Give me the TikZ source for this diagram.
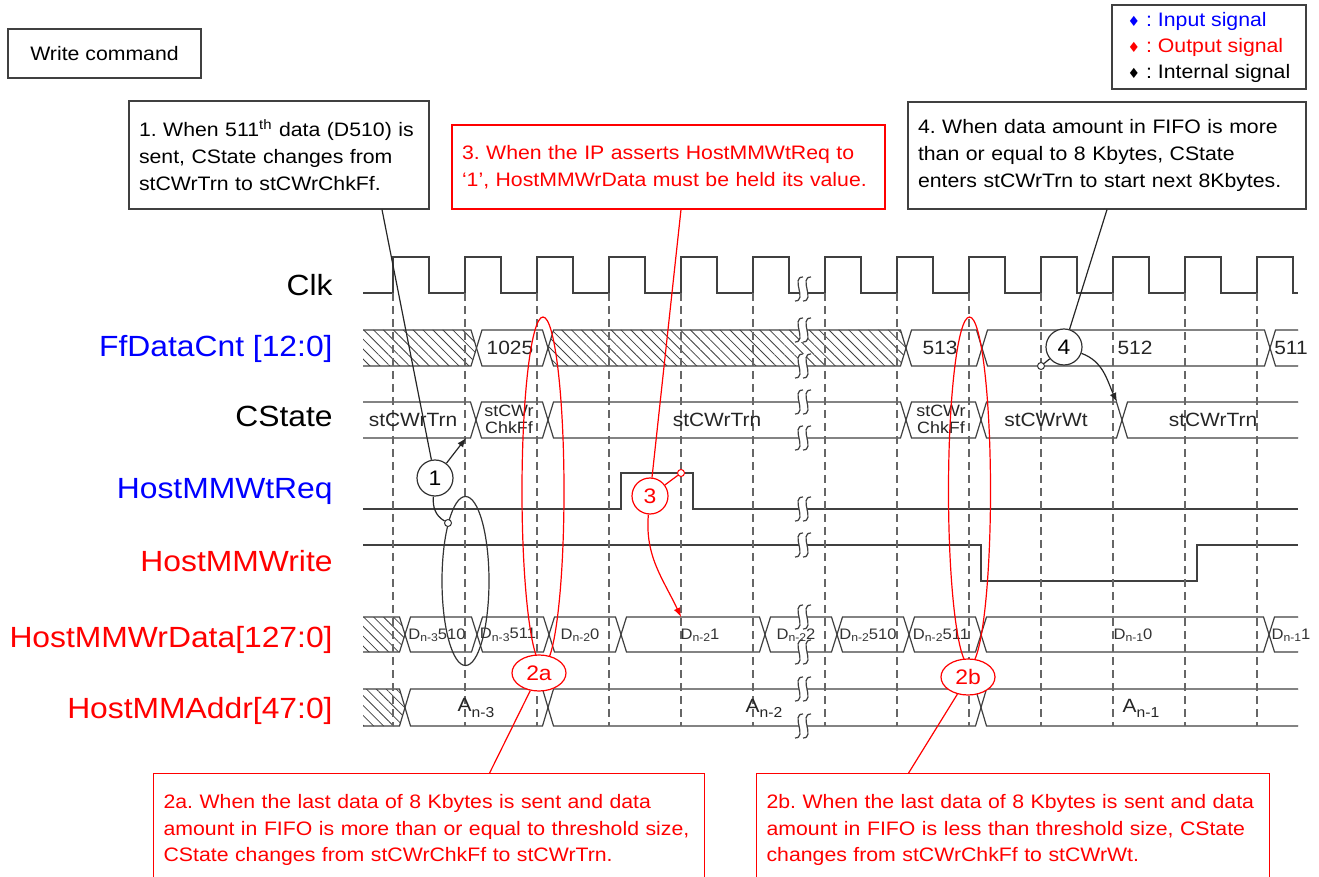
\documentclass[tikz,border=0pt]{standalone}
\usepackage{fontspec}
\setmainfont{Liberation Sans}[FakeStretch=1.09]
\newfontfamily\diafont{DejaVu Sans}
\usetikzlibrary{shapes.geometric, arrows, positioning, patterns.meta}
\frenchspacing

\newcommand{\busval}[5][]{%
  \draw[wave,#1] (#2,{(#4+#5)/2}) -- ({#2+5.5},#4) -- ({#3-5.5},#4) -- (#3,{(#4+#5)/2})
    -- ({#3-5.5},#5) -- ({#2+5.5},#5) -- cycle;}
\newcommand{\brk}[2]{%
  \fill[white] (#1,{#2-12}) .. controls ({#1-13},{#2-12}) and ({#1+5},{#2+12}) .. ({#1-8},{#2+12})
    -- (#1,{#2+12}) .. controls ({#1+13},{#2+12}) and ({#1-5},{#2-12}) .. ({#1+8},{#2-12}) -- cycle;
  \draw[wave] (#1,{#2-12}) .. controls ({#1-13},{#2-12}) and ({#1+5},{#2+12}) .. ({#1-8},{#2+12});
  \draw[wave] ({#1+8},{#2-12}) .. controls ({#1-5},{#2-12}) and ({#1+13},{#2+12}) .. (#1,{#2+12});}
\newcommand{\dv}[2]{D\raisebox{-0.3ex}{\fontsize{5.6}{6}\selectfont #1}#2}
\newcommand{\av}[1]{A\raisebox{-0.5ex}{\fontsize{7.2}{8}\selectfont #1}}
\newcommand{\dia}[1]{{\diafont\fontsize{7}{7}\selectfont\textcolor{#1}{♦}}}

\begin{document}
\begin{tikzpicture}[x=0.5pt, y=-0.5pt,
    wave/.style={draw=black!75, line width=0.6pt},
    hatch/.style={pattern={Lines[angle=-45, distance=3.5pt, line width=0.4pt]}, pattern color=black!75},
    guide/.style={draw=black!60, line width=0.6pt, dash pattern=on 4pt off 2.5pt},
    signame/.style={anchor=base east, inner sep=0pt, font=\fontsize{14.6}{16}\selectfont},
    busval/.style={inner sep=0pt, text=black!85, font=\fontsize{9.6}{10}\selectfont},
    dataval/.style={inner sep=0pt, text=black!80, font=\fontsize{7.6}{8}\selectfont},
    note/.style={draw=black!75, line width=0.6pt, fill=white, inner xsep=5pt, align=left,
                 font=\fontsize{9.75}{13.35}\selectfont},
    rednote/.style={note, draw=red, text=red},
    tag/.style={circle, draw=black!80, line width=0.6pt, fill=white, minimum size=18pt,
                inner sep=0pt, font=\fontsize{10.5}{11}\selectfont},
    redtag/.style={tag, draw=red, text=red},
    ring/.style={ellipse, draw, line width=0.6pt, inner sep=0pt},
    dot/.style={circle, draw, line width=0.5pt, fill=white, minimum size=3.5pt, inner sep=0pt},
    callout/.style={draw=black!85, line width=0.6pt}
]
\useasboundingbox (0,0) rectangle (1319,877);

\node[signame] (lblclk) at (333,296) {Clk};
\node[signame, text=blue] (lblcnt) at (333,357) {FfDataCnt [12:0]};
\node[signame] (lblstate) at (333,427) {CState};
\node[signame, text=blue] (lblreq) at (333,499) {HostMMWtReq};
\node[signame, text=red] (lblwrite) at (333,572) {HostMMWrite};
\node[signame, text=red] (lbldata) at (333,647) {HostMMWrData[127:0]};
\node[signame, text=red] (lbladdr) at (333,718) {HostMMAddr[47:0]};

\draw[wave] (363,293) foreach \r in {393,465,...,1257} { -- (\r,293) -- (\r,257) -- ({\r+36},257) -- ({\r+36},293) } -- (1298,293);
\draw[wave] (363,509) -- (621,509) -- (621,473) -- (693,473) -- (693,509) -- (1298,509);
\draw[wave] (363,545) -- (981,545) -- (981,581) -- (1197,581) -- (1197,545) -- (1298,545);

\begin{scope}
  \clip (363,250) rectangle (1298,740);
  \busval[hatch]{357}{476.5}{330}{366}
  \busval{476.5}{548}{330}{366}
  \busval[hatch]{548}{906}{330}{366}
  \busval{906}{982}{330}{366}
  \busval{982}{1270}{330}{366}
  \busval{1270}{1304}{330}{366}

  \busval{357}{476}{402}{438}
  \busval{476}{548}{402}{438}
  \busval{548}{906}{402}{438}
  \busval{906}{981}{402}{438}
  \busval{981}{1122}{402}{438}
  \busval{1122}{1304}{402}{438}

  \busval[hatch]{357}{405}{617}{652}
  \foreach \a/\b in {405/477, 477/549, 549/621, 621/765, 765/837, 837/909, 909/981, 981/1269, 1269/1304}
    {\busval{\a}{\b}{617}{652}}

  \busval[hatch]{357}{405}{689}{726}
  \busval{405}{548}{689}{726}
  \busval{548}{981}{689}{726}
  \busval{981}{1304}{689}{726}
\end{scope}

\foreach \r in {393,465,...,1257} \draw[guide] (\r,293) -- (\r,726);
\foreach \y in {289,330,366,402,438,509,545,617,652,689,726} {\brk{803}{\y}}

\node[busval] (v1025) at (510,348) {1025};
\node[busval] (v513) at (940,348) {513};
\node[busval] (v512) at (1135,348) {512};
\node[busval] (v511) at (1291,348) {511};

\node[busval] (st1) at (413,420) {stCWrTrn};
\node[busval, align=center, font=\fontsize{8.2}{8.5}\selectfont] (chk1) at (509,419) {stCWr\\ChkFf};
\node[busval] (st2) at (717,420) {stCWrTrn};
\node[busval, align=center, font=\fontsize{8.2}{8.5}\selectfont] (chk2) at (941,419) {stCWr\\ChkFf};
\node[busval] (wt1) at (1046,420) {stCWrWt};
\node[busval] (st3) at (1213,420) {stCWrTrn};

\node[dataval] (d0) at (437,635) {\dv{n-3}{510}};
\node[dataval] (d1) at (508,635) {\dv{n-3}{511}};
\node[dataval] (d2) at (580,635) {\dv{n-2}{0}};
\node[dataval] (d3) at (700,635) {\dv{n-2}{1}};
\node[dataval] (d4) at (796,635) {\dv{n-2}{2}};
\node[dataval] (d5) at (868,635) {\dv{n-2}{510}};
\node[dataval] (d6) at (941,635) {\dv{n-2}{511}};
\node[dataval] (d7) at (1133,635) {\dv{n-1}{0}};
\node[dataval] (d8) at (1291,635) {\dv{n-1}{1}};

\node[busval] (a0) at (476,708) {\av{n-3}};
\node[busval] (a1) at (764,708) {\av{n-2}};
\node[busval] (a2) at (1141,708) {\av{n-1}};

\node[ring, draw=red, minimum width=21pt, minimum height=174pt] (e2a) at (543,491) {};
\node[ring, draw=red, minimum width=21pt, minimum height=174pt] (e2b) at (969.5,491) {};
\node[ring, draw=black!80, minimum width=23.5pt, minimum height=84.5pt] (e1) at (465.5,581) {};
\node[redtag, ellipse, minimum width=27pt, minimum height=18pt] (l2a) at (539,673) {2a};
\node[redtag, ellipse, minimum width=27pt, minimum height=18pt] (l2b) at (968,677) {2b};

\node[tag] (c1) at (435,478) {1};
\node[redtag] (c3) at (650,496) {3};
\node[tag] (c4) at (1064,347) {4};
\node[dot, draw=black!80] (s1) at (448,523) {};
\node[dot, draw=red] (s3) at (681,473) {};
\node[dot, draw=black!80] (s4) at (1041,366) {};
\coordinate (cs1) at (466,438);
\coordinate (wd1) at (681,617);
\coordinate (cs4) at (1117,402);

\node[note, minimum width=96.5pt, minimum height=24.5pt] (cmd) at (104.5,53.5) {Write command};
\node[note, minimum width=97pt, minimum height=42pt, font=\fontsize{9.75}{13}\selectfont] (legend) at (1209,47)
  {\dia{blue} \textcolor{blue}{: Input signal}\\ \dia{red} \textcolor{red}{: Output signal}\\ \dia{black} : Internal signal};
\node[note, text width=140pt, minimum height=54pt] (box1) at (279,155)
  {1. When 511\textsuperscript{th} data (D510) is\\ sent, CState changes from\\ stCWrTrn to stCWrChkFf.};
\node[rednote, text width=206.5pt, minimum height=42pt] (box3) at (668.5,167)
  {3. When the IP asserts HostMMWtReq to\\ ‘1’, HostMMWrData must be held its value.};
\node[note, text width=189pt, minimum height=53.5pt] (box4) at (1107,155.5)
  {4. When data amount in FIFO is more\\ than or equal to 8 Kbytes, CState\\ enters stCWrTrn to start next 8Kbytes.};
\node[rednote, text width=265.5pt, anchor=north west, inner ysep=10.4pt] (box2a) at (153,773)
  {2a. When the last data of 8 Kbytes is sent and data\\ amount in FIFO is more than or equal to threshold size,\\ CState changes from stCWrChkFf to stCWrTrn.};
\node[rednote, text width=246.5pt, anchor=north west, inner ysep=10.4pt] (box2b) at (756,773)
  {2b. When the last data of 8 Kbytes is sent and data\\ amount in FIFO is less than threshold size, CState\\ changes from stCWrChkFf to stCWrWt.};

\draw[callout] ([xshift=51.5pt]box1.south) -- (c1);
\draw[callout, -latex] (c1) -- (cs1);
\draw[callout] (c1) to[out=-95, in=150] (s1);
\draw[red, line width=0.6pt] ([xshift=6.25pt]box3.south) -- (c3);
\draw[red, line width=0.6pt] (c3) -- (s3);
\draw[red, line width=0.6pt, -latex] (c3) to[out=-95, in=115] (wd1);
\draw[callout] (box4.south) -- (c4);
\draw[callout] (c4) -- (s4);
\draw[callout, -latex] (c4) to[out=-20, in=115] (cs4);
\draw[red, line width=0.6pt] (l2a) -- ([xshift=30.25pt]box2a.north);
\draw[red, line width=0.6pt] (l2b) -- ([xshift=-52.25pt]box2b.north);

\end{tikzpicture}
\end{document}
